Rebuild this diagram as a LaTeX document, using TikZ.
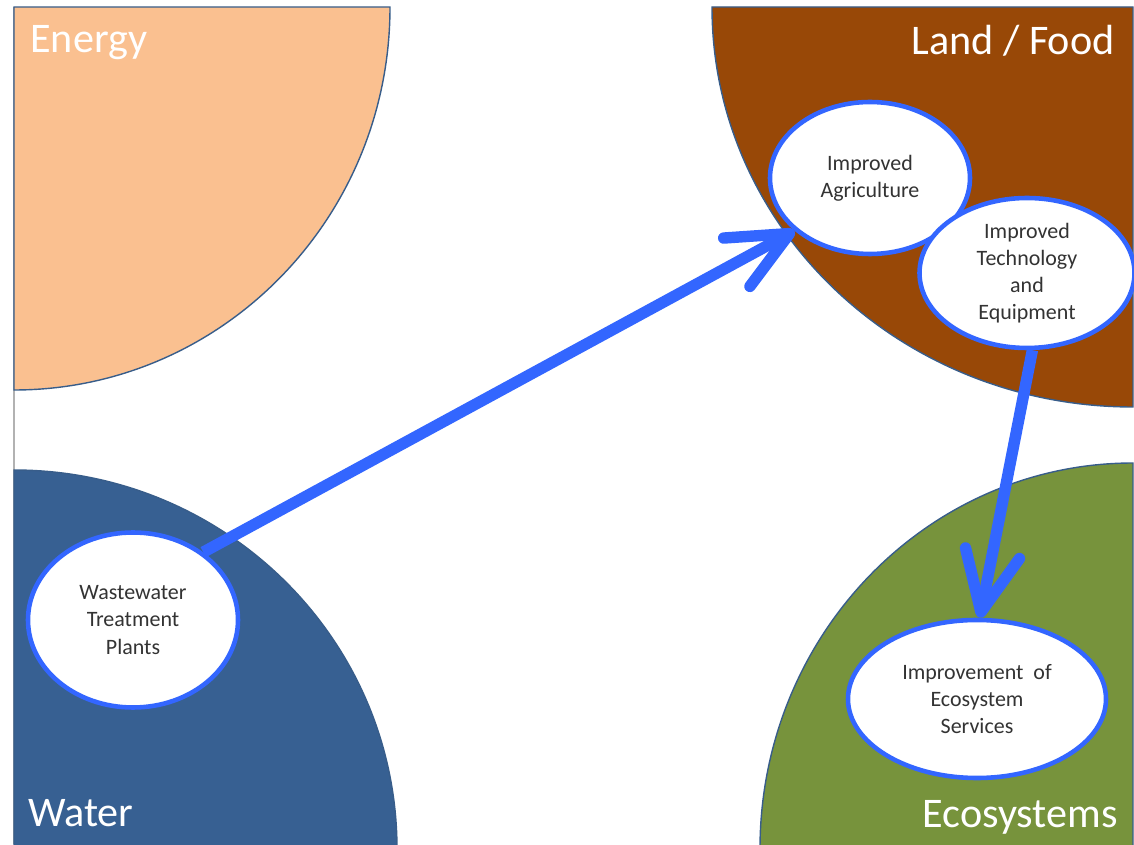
\documentclass[tikz,border=0pt]{standalone}
\usepackage{fontspec}
\setmainfont{Carlito}
\usetikzlibrary{shapes.geometric,arrows.meta}

\definecolor{energy}{HTML}{FAC090}
\definecolor{landfood}{HTML}{984807}
\definecolor{water}{HTML}{376092}
\definecolor{ecosys}{HTML}{77933C}
\definecolor{edge}{HTML}{385D8A}
\definecolor{link}{HTML}{3366FF}

\begin{document}
\begin{tikzpicture}[auto,
		sector/.style={draw=edge,line width=0.8pt},
		inner node/.style={ellipse,draw=link,fill=white,line width=2.6pt,inner sep=0pt,
			align=center,text=black!80,font=\fontsize{12.5}{15.4}\selectfont},
		corner label/.style={text=white,inner sep=0pt,font=\fontsize{24}{28}\selectfont},
		link arrow/.style={draw=link,line width=6.5pt,-{Straight Barb[length=1.2cm,width=1.1cm,round]}}]
		\useasboundingbox (0,0) rectangle (22.68,16.88);
		\draw[gray!60,line width=1pt] (0.28,0) -- (0.28,16.74);

		% the four corners
		\path[sector,fill=energy] (0.28,16.74) -- (7.80,16.74)
			arc[start angle=0,end angle=-90,x radius=7.52,y radius=7.66] -- cycle;
		\path[sector,fill=landfood] (22.66,16.74) -- (14.24,16.74)
			arc[start angle=180,end angle=270,x radius=8.42,y radius=8.0] -- cycle;
		\path[sector,fill=water] (0.28,-0.1) -- (0.28,7.48)
			arc[start angle=90,end angle=0,x radius=7.66,y radius=7.58] -- cycle;
		\path[sector,fill=ecosys] (22.66,-0.1) -- (15.20,-0.1)
			arc[start angle=180,end angle=90,x radius=7.46,y radius=7.72] -- cycle;

		\node[corner label,anchor=base west] (energy) at (0.60,15.82) {Energy};
		\node[corner label,anchor=base east] (land) at (22.30,15.78) {Land / Food};
		\node[corner label,anchor=base west] (water) at (0.56,0.34) {Water};
		\node[corner label,anchor=base east] (eco) at (22.36,0.32) {Ecosystems};

		% inner ellipses
		\node[inner node,minimum width=4.2cm,minimum height=3.5cm] (ww) at (2.66,4.48) {Wastewater\\Treatment\\Plants};
		\node[inner node,minimum width=4.0cm,minimum height=3.04cm] (agri) at (17.40,13.32) {Improved\\Agriculture};
		\node[inner node,minimum width=4.3cm,minimum height=3.0cm] (tech) at (20.54,11.42) {Improved\\Technology\\and\\Equipment};
		\node[inner node,minimum width=5.16cm,minimum height=3.16cm] (ecoserv) at (19.54,2.90) {Improvement~ of\\Ecosystem\\Services};

		\path[link arrow] (ww.44) -- (agri.215);
		\path[link arrow] (tech.274) -- (ecoserv.88);
		\end{tikzpicture}
\end{document}
